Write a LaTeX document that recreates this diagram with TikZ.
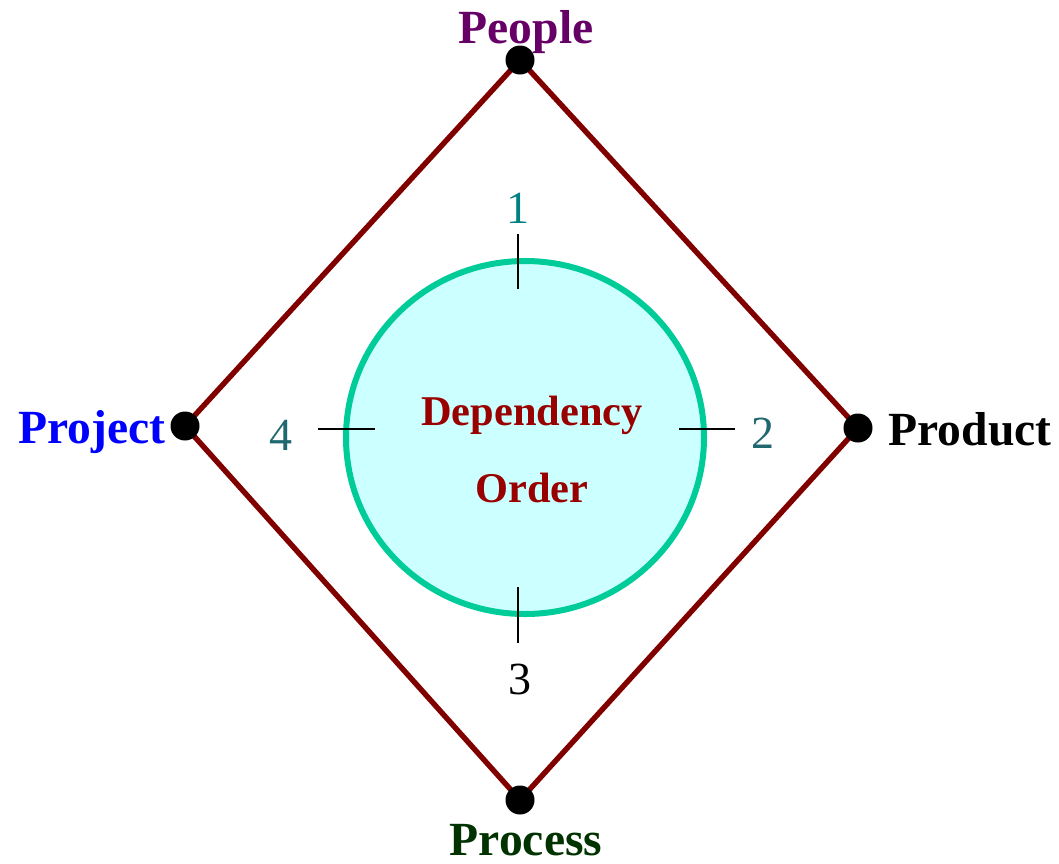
\documentclass[tikz,border=0pt]{standalone}
\usepackage{fontspec}
\setmainfont{Liberation Serif}

\definecolor{edgered}{HTML}{800000}
\definecolor{ringgreen}{HTML}{00CC99}
\definecolor{ringfill}{HTML}{CCFFFF}
\definecolor{peoplecol}{HTML}{660066}
\definecolor{processcol}{HTML}{003300}
\definecolor{ordercol}{HTML}{990000}
\definecolor{numteal}{HTML}{008080}
\definecolor{numslate}{HTML}{1F6870}

\begin{document}
\begin{tikzpicture}[x=0.5pt,y=-0.5pt,
  corner/.style={circle,fill=black,inner sep=0pt,minimum size=14.5pt},
  pname/.style={anchor=base,font=\fontsize{23.8}{27}\selectfont\bfseries},
  numlabel/.style={anchor=base,font=\fontsize{23}{27}\selectfont},
  tick/.style={black,line width=1pt}]

\useasboundingbox (0,0) rectangle (1059,863);

\coordinate (people)  at (520,60);
\coordinate (product) at (858,428);
\coordinate (process) at (520,800);
\coordinate (project) at (185,426);

\draw[edgered,line width=2.7pt,line join=round]
  (people) -- (product) -- (process) -- (project) -- cycle;

\node[corner] (peopledot)  at (people)  {};
\node[corner] (productdot) at (product) {};
\node[corner] (processdot) at (process) {};
\node[corner] (projectdot) at (project) {};

\node[pname,text=peoplecol]  (peoplename)  at (526,43)  {People};
\node[pname,text=black]      (productname) at (970,445) {Product};
\node[pname,text=processcol] (processname) at (526,855) {Process};
\node[pname,text=blue]       (projectname) at (92,443)  {Project};

\filldraw[fill=ringfill,draw=ringgreen,line width=3pt]
  (525,437.5) ellipse[x radius=179,y radius=176.5];

\node[anchor=base,text=ordercol,font=\fontsize{21.2}{25}\selectfont\bfseries]
  (dependency) at (532,425) {Dependency};
\node[anchor=base,text=ordercol,font=\fontsize{21.2}{25}\selectfont\bfseries]
  (order) at (532,502) {Order};

\draw[tick] (518,234) -- (518,289);
\draw[tick] (679,429) -- (735,429);
\draw[tick] (518,587) -- (518,643);
\draw[tick] (318,429) -- (375,429);

\node[numlabel,text=numteal]  (one)   at (518,223) {1};
\node[numlabel,text=numslate] (two)   at (763,448) {2};
\node[numlabel,text=black]    (three) at (520,694) {3};
\node[numlabel,text=numslate] (four)  at (281,450) {4};

\end{tikzpicture}
\end{document}
